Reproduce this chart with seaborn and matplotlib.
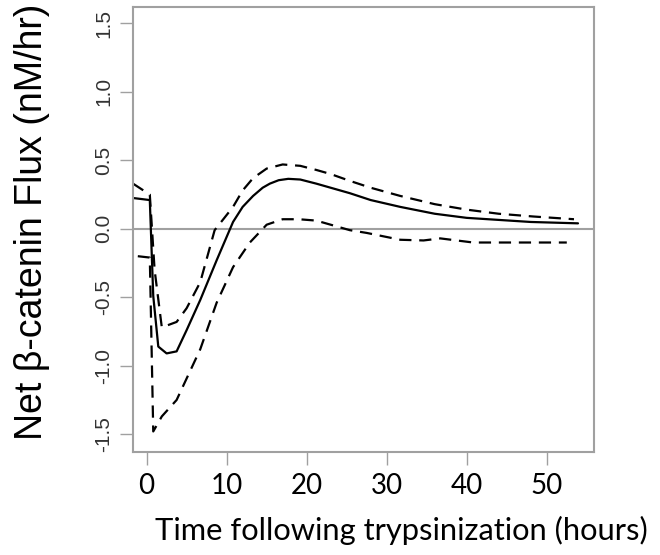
import matplotlib
matplotlib.use("Agg")
import matplotlib.pyplot as plt
import seaborn as sns
import pandas as pd

# ---- data ----
mean_t = [-1.7, 0.4, 0.83, 1.46, 2.5, 3.75, 5.0, 6.7, 8.75, 10.8, 12.0, 13.3,
          14.5, 15.4, 16.5, 17.7, 19.2, 21.2, 23.0, 25.4, 28.0, 31.7, 36.0,
          40.0, 44.0, 48.0, 53.9]
mean_v = [0.225, 0.21, -0.49, -0.86, -0.91, -0.895, -0.74, -0.52, -0.23, 0.05,
          0.16, 0.24, 0.30, 0.33, 0.355, 0.365, 0.36, 0.33, 0.30, 0.26, 0.21,
          0.16, 0.11, 0.08, 0.065, 0.05, 0.04]

upper_t = [-1.7, 0.4, 1.0, 1.9, 3.75, 5.0, 6.7, 8.5, 10.8, 12.0, 13.3, 15.0,
           17.0, 19.2, 21.2, 23.0, 25.4, 28.0, 31.7, 36.0, 40.0, 44.0, 48.3, 53.4]
upper_v = [0.33, 0.25, -0.30, -0.72, -0.68, -0.58, -0.39, -0.01, 0.16, 0.28,
           0.37, 0.44, 0.47, 0.46, 0.43, 0.40, 0.35, 0.30, 0.24, 0.18, 0.14,
           0.11, 0.09, 0.07]

lower_t = [-1.1, 0.4, 0.83, 1.9, 3.75, 6.7, 8.75, 10.8, 12.9, 15.0, 17.0,
           19.0, 21.2, 23.0, 25.4, 27.5, 31.7, 34.6, 36.7, 40.8, 52.5]
lower_v = [-0.20, -0.21, -1.48, -1.37, -1.25, -0.88, -0.54, -0.28, -0.10, 0.03,
           0.07, 0.07, 0.06, 0.03, -0.01, -0.03, -0.08, -0.085, -0.07, -0.10,
           -0.10]

x_ticks = [0, 10, 20, 30, 40, 50]
y_ticks = [-1.5, -1.0, -0.5, 0.0, 0.5, 1.0, 1.5]
y_tick_labels = ["-1.5", "-1.0", "-0.5", "0.0", "0.5", "1.0", "1.5"]

x_label = "Time following trypsinization (hours)"
y_label = "Net \u03b2-catenin Flux (nM/hr)"

# ---- plot ----
sns.set_theme(style="white")
plt.rcParams["font.family"] = ["Liberation Sans", "DejaVu Sans"]

fig = plt.figure(figsize=(6.6, 5.55), dpi=100)
ax = fig.add_axes([133 / 660, 1 - 452 / 555, (594 - 133) / 660, (452 - 7) / 555])

gray = "#a0a0a0"
ax.axhline(0, color=gray, lw=1.5, zorder=1)

df_mean = pd.DataFrame({"t": mean_t, "v": mean_v})
df_up = pd.DataFrame({"t": upper_t, "v": upper_v})
df_lo = pd.DataFrame({"t": lower_t, "v": lower_v})

sns.lineplot(data=df_mean, x="t", y="v", ax=ax, color="black", lw=1.6,
             sort=False, estimator=None)
for d in (df_up, df_lo):
    sns.lineplot(data=d, x="t", y="v", ax=ax, color="black", lw=1.6,
                 sort=False, estimator=None, linestyle=(0, (5.5, 3.5)))

ax.set_xlim(-1.7, 55.9)
ax.set_ylim(-1.63, 1.62)

for s in ax.spines.values():
    s.set_color(gray)
    s.set_linewidth(1.5)
    s.set_visible(True)

ax.set_xticks(x_ticks)
ax.set_xticklabels([str(v) for v in x_ticks], family=["Lato", "DejaVu Sans"],
                   fontsize=20, color="black")
ax.set_yticks(y_ticks)
ax.set_yticklabels(y_tick_labels, rotation=90, va="center", fontsize=15,
                   color="#333333")
ax.tick_params(axis="both", which="both", direction="out", length=9.4,
               width=1.0, color=gray, left=True, bottom=True)
ax.tick_params(axis="x", pad=6)
ax.tick_params(axis="y", pad=5)

ax.set_xlabel("")
ax.set_ylabel("")
fig.text(401 / 660, 1 - 530 / 555, x_label, ha="center", va="center",
         family=["Lato", "DejaVu Sans"], fontsize=22.2, color="black")
fig.text(32 / 660, 1 - 222 / 555, y_label, ha="center", va="center",
         rotation=90, fontsize=27, color="black")

fig.savefig("out.png", dpi=100)
